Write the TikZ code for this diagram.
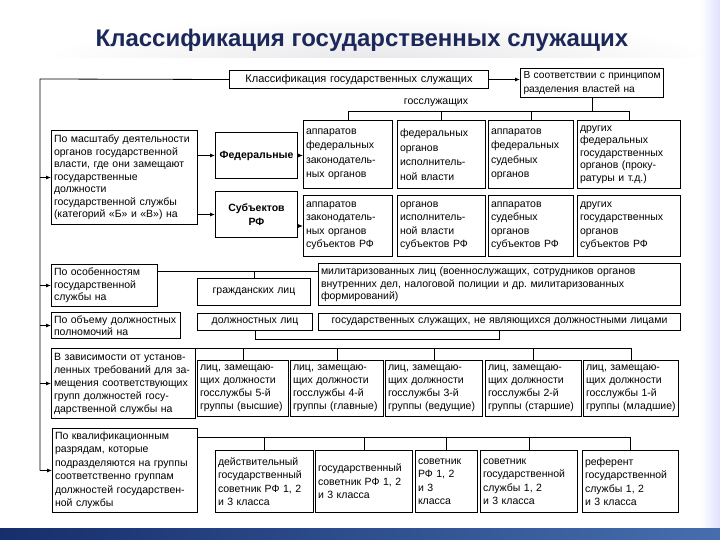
\documentclass[tikz,border=0pt]{standalone}
\usepackage{fontspec}
\setmainfont{Liberation Sans}
\usetikzlibrary{arrows.meta, positioning, calc}
\definecolor{titleblue}{RGB}{28,40,90}
\definecolor{bardark}{RGB}{22,46,108}
\definecolor{barlight}{RGB}{70,110,175}

\tikzset{
  box/.style={draw, line width=1pt, anchor=north west, inner sep=2.5pt, align=left,
    font=\fontsize{10.5}{13.5}\selectfont},
  cbox/.style={box, align=center},
  arr/.style={-{Latex[length=5pt,width=4pt]}, line width=0.8pt},
  link/.style={line width=0.8pt}
}

\begin{document}
\begin{tikzpicture}[x=1pt, y=-1pt]
    \useasboundingbox (0,0) rectangle (720,540);
    % slide background
    \fill[white] (0,0) rectangle (720,540);
    \shade[inner color=blue!6!gray!18, outer color=white] (380,62) ellipse (340 and 45);
    \fill[white] (30,58) rectangle (700,528);
    \shade[left color=white, right color=blue!12] (700,0) rectangle (720,528);
    \shade[left color=bardark, right color=barlight] (0,528) rectangle (720,540);

    % Title
    \node[font=\fontsize{24}{28}\selectfont\bfseries, text=titleblue] (title) at (362,40) {Классификация государственных служащих};

    % Top
    \node[cbox, text width=254pt, minimum height=18pt, font=\fontsize{11}{13}\selectfont] (cls) at (229,70) {Классификация государственных служащих};
    \node[box, text width=141pt, minimum height=29pt, inner sep=1pt, font=\fontsize{10.2}{13.5}\selectfont] (prin) at (520,68) {\hspace{2pt}В соответствии с принципом\\\hspace{2pt}разделения властей на};
    \draw[arr] (cls.east) -- (prin.west |- cls.east);

    % Left spine
    \coordinate (sp) at (40,79);
    
    % By scale of activity
    \node[box, text width=141pt, minimum height=94pt, font=\fontsize{10.5}{12.5}\selectfont] (scale) at (51,130) {По масштабу деятельности\\органов государственной\\власти, где они замещают\\государственные\\должности\\государственной службы\\(категорий «Б» и «В») на};
    \node[cbox, text width=77pt, minimum height=46pt, font=\fontsize{10.5}{13.5}\selectfont\bfseries] (fed) at (215,132) {Федеральные};
    \node[cbox, text width=77pt, minimum height=46pt, font=\fontsize{10.5}{13.5}\selectfont\bfseries] (subj) at (215,191) {Субъектов\\РФ};
    \node[box, text width=84pt, minimum height=68pt, font=\fontsize{10.5}{14.5}\selectfont] (f1) at (303,120) {аппаратов\\федеральных\\законодатель-\\ных органов};
    \node[box, text width=83pt, minimum height=68pt, font=\fontsize{10.5}{14.5}\selectfont] (f2) at (397,120) {федеральных\\органов\\исполнитель-\\ной власти};
    \node[box, text width=80pt, minimum height=68pt, font=\fontsize{10.5}{14.5}\selectfont] (f3) at (488,120) {аппаратов\\федеральных\\судебных\\органов};
    \node[box, text width=98pt, minimum height=68pt, font=\fontsize{10.5}{12.5}\selectfont] (f4) at (577,120) {других\\федеральных\\государственных\\органов (проку-\\ратуры и т.д.)};
    \node[box, text width=84pt, minimum height=61pt] (s1) at (303,195) {аппаратов\\законодатель-\\ных органов\\субъектов РФ};
    \node[box, text width=83pt, minimum height=61pt] (s2) at (397,195) {органов\\исполнитель-\\ной власти\\субъектов РФ};
    \node[box, text width=80pt, minimum height=61pt] (s3) at (488,195) {аппаратов\\судебных\\органов\\субъектов РФ};
    \node[box, text width=98pt, minimum height=61pt] (s4) at (577,195) {других\\государственных\\органов\\субъектов РФ};
    \node[font=\fontsize{10.5}{12}\selectfont] (gs) at (436,103) {госслужащих};
    \draw[link] (f1.north) -- ++(0,-9) coordinate (b1) -| (f4.north);
    \foreach \n in {f2,f3} \draw[link] (\n.north) -- (\n.north |- b1);
    \draw[link] (prin.south) -- (prin.south |- b1);
    \draw[arr] (scale.east |- fed.west) -- (fed.west);
    \draw[arr] (scale.east |- subj.west) -- (subj.west);
    \draw[arr] (fed.east) -- (f1.west |- fed.east);
    \draw[arr] (subj.east |- s1.west) -- (s1.west);

    % By features of service
    \node[box, text width=101pt, minimum height=42pt, font=\fontsize{10.5}{12.5}\selectfont] (feat) at (51,264) {По особенностям\\государственной\\службы на};
    \node[cbox, text width=108pt, minimum height=27pt] (civ) at (197,278) {гражданских лиц};
    \node[box, text width=357pt, minimum height=42pt, font=\fontsize{10.5}{12.5}\selectfont] (mil) at (318,263) {милитаризованных лиц (военнослужащих, сотрудников органов\\внутренних дел, налоговой полиции и др.\ милитаризованных\\формирований)};
    \coordinate (b2) at (0,271);
    \draw[link] (feat.east |- b2) -- (mil.west |- b2);
    \draw[link] (civ.north) -- (civ.north |- b2);

    % By scope of powers
    \node[box, text width=124pt, minimum height=26pt, font=\fontsize{10.5}{12}\selectfont] (vol) at (51,312) {По объему должностных\\полномочий на};
    \node[cbox, text width=110pt, minimum height=17pt] (off) at (197,313) {должностных лиц};
    \node[cbox, text width=357pt, minimum height=17pt] (nonoff) at (318,313) {государственных служащих, не являющихся должностными лицами};
    \draw[link] (off.south) -- ++(0,8) -| (nonoff.south);

    % By requirements for positions
    \node[box, text width=139pt, minimum height=70pt, font=\fontsize{10.5}{13}\selectfont] (req) at (51,348) {В зависимости от установ-\\ленных требований для за-\\мещения соответствующих\\групп должностей госу-\\дарственной службы на};
    \node[box, text width=86pt, minimum height=56pt, font=\fontsize{10.5}{13}\selectfont] (g5) at (197,360) {лиц, замещаю-\\щих должности\\госслужбы 5-й\\группы (высшие)};
    \node[box, text width=88pt, minimum height=56pt, font=\fontsize{10.5}{13}\selectfont] (g4) at (290,360) {лиц, замещаю-\\щих должности\\госслужбы 4-й\\группы (главные)};
    \node[box, text width=92pt, minimum height=56pt, font=\fontsize{10.5}{13}\selectfont] (g3) at (385,360) {лиц, замещаю-\\щих должности\\госслужбы 3-й\\группы (ведущие)};
    \node[box, text width=91pt, minimum height=56pt, font=\fontsize{10.5}{13}\selectfont] (g2) at (485,360) {лиц, замещаю-\\щих должности\\госслужбы 2-й\\группы (старшие)};
    \node[box, text width=90pt, minimum height=56pt, font=\fontsize{10.5}{13}\selectfont] (g1) at (583,360) {лиц, замещаю-\\щих должности\\госслужбы 1-й\\группы (младшие)};
    \draw[link] (req.north east) -| (g1.north);
    \foreach \n in {g5,g4,g3,g2} \draw[link] (\n.north) -- (\n.north |- req.north);

    % By qualification ranks
    \node[box, text width=140pt, minimum height=84pt] (qual) at (52,428) {По квалификационным\\разрядам, которые\\подразделяются на группы\\соответственно группам\\должностей государствен-\\ной службы};
    \node[box, text width=93pt, minimum height=62pt] (q1) at (215,450) {действительный\\государственный\\советник РФ 1, 2\\и 3 класса};
    \node[box, text width=92pt, minimum height=62pt] (q2) at (315,450) {государственный\\советник РФ 1, 2\\и 3 класса};
    \node[box, text width=57pt, minimum height=62pt] (q3) at (415,450) {советник\\РФ 1, 2\\и 3\\класса};
    \node[box, text width=92pt, minimum height=62pt] (q4) at (480,450) {советник\\государственной\\службы 1, 2\\и 3 класса};
    \node[box, text width=91pt, minimum height=62pt] (q5) at (582,450) {референт\\государственной\\службы 1, 2\\и 3 класса};
    \coordinate (b5) at (0,437);
    \draw[link] (qual.east |- b5) -| (q5.north);
    \foreach \n in {q1,q2,q3,q4} \draw[link] (\n.north) -- (\n.north |- b5);

    % Spine arrows
    \draw[link] (cls.west) -- (sp) -- (sp |- qual.west);
    \foreach \n in {scale,feat,vol,req,qual} \draw[arr] (sp |- \n.west) -- (\n.west);
\end{tikzpicture}
\end{document}
